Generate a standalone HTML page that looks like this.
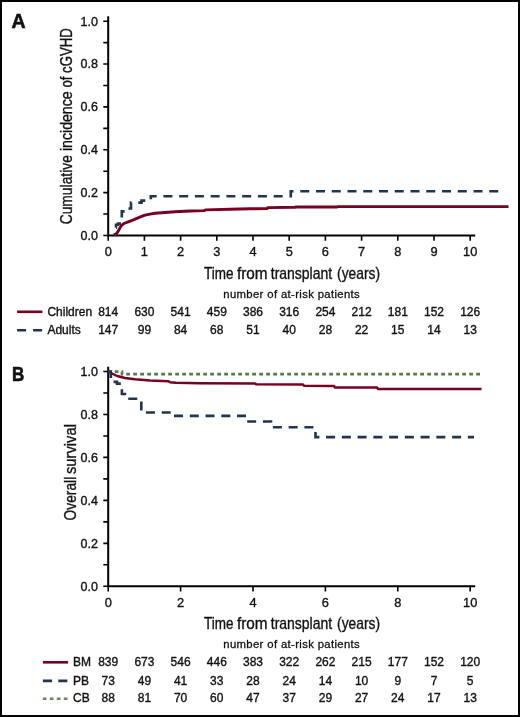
<!DOCTYPE html><html><head><meta charset="utf-8"><style>
html,body{margin:0;padding:0;background:#fff}
body{width:520px;height:717px;overflow:hidden;position:relative;font-family:"Liberation Sans", sans-serif}
#f{position:absolute;left:0;top:0;width:516px;height:713px;border:2px solid #000;background:#fff}
svg{position:absolute;left:0;top:0;will-change:transform}
</style></head><body><div id="f"></div>
<svg width="520" height="717" viewBox="0 0 520 717" font-family='"Liberation Sans", sans-serif' fill="#111">
<style>text{stroke:#111;stroke-width:0.35px}</style>
<text transform="translate(11.6,27.7) scale(1,1)" font-weight="bold" font-size="19.5" style="stroke-width:0.6px">A</text>
<path d="M108.2,16.2V236.5M107.2,235.5H475.2" stroke="#000" stroke-width="2" fill="none"/>
<path d="M103.3,235.50H108.2M103.3,214.07H108.2M103.3,192.64H108.2M103.3,171.21H108.2M103.3,149.78H108.2M103.3,128.35H108.2M103.3,106.92H108.2M103.3,85.49H108.2M103.3,64.06H108.2M103.3,42.63H108.2M103.3,21.20H108.2M108.20,235.5V240.8M144.40,235.5V240.8M180.60,235.5V240.8M216.80,235.5V240.8M253.00,235.5V240.8M289.20,235.5V240.8M325.40,235.5V240.8M361.60,235.5V240.8M397.80,235.5V240.8M434.00,235.5V240.8M470.20,235.5V240.8" stroke="#000" stroke-width="1.6" fill="none"/>
<text x="98" y="239.90" text-anchor="end" font-size="12.5">0.0</text>
<text x="98" y="197.04" text-anchor="end" font-size="12.5">0.2</text>
<text x="98" y="154.18" text-anchor="end" font-size="12.5">0.4</text>
<text x="98" y="111.32" text-anchor="end" font-size="12.5">0.6</text>
<text x="98" y="68.46" text-anchor="end" font-size="12.5">0.8</text>
<text x="98" y="25.60" text-anchor="end" font-size="12.5">1.0</text>
<text x="108.20" y="256.20" text-anchor="middle" font-size="12.8">0</text>
<text x="144.40" y="256.20" text-anchor="middle" font-size="12.8">1</text>
<text x="180.60" y="256.20" text-anchor="middle" font-size="12.8">2</text>
<text x="216.80" y="256.20" text-anchor="middle" font-size="12.8">3</text>
<text x="253.00" y="256.20" text-anchor="middle" font-size="12.8">4</text>
<text x="289.20" y="256.20" text-anchor="middle" font-size="12.8">5</text>
<text x="325.40" y="256.20" text-anchor="middle" font-size="12.8">6</text>
<text x="361.60" y="256.20" text-anchor="middle" font-size="12.8">7</text>
<text x="397.80" y="256.20" text-anchor="middle" font-size="12.8">8</text>
<text x="434.00" y="256.20" text-anchor="middle" font-size="12.8">9</text>
<text x="470.20" y="256.20" text-anchor="middle" font-size="12.8">10</text>
<text transform="translate(71.7,224.32) rotate(-90) scale(0.8440,1)" font-size="16.4">Cumulative</text>
<text transform="translate(71.7,151.05) rotate(-90) scale(0.8614,1)" font-size="16.4">incidence</text>
<text transform="translate(71.7,87.56) rotate(-90) scale(0.8000,1)" font-size="16.4">of</text>
<text transform="translate(71.7,72.96) rotate(-90) scale(0.8041,1)" font-size="16.4">cGVHD</text>
<text transform="translate(204.01,278.5) scale(0.8326,1)" font-size="16.2">Time</text>
<text transform="translate(236.96,278.5) scale(0.9453,1)" font-size="16.2">from</text>
<text transform="translate(270.78,278.5) scale(0.8630,1)" font-size="16.2">transplant</text>
<text transform="translate(337.05,278.5) scale(0.8533,1)" font-size="16.2">(years)</text>
<text x="291.7" y="297.5" text-anchor="middle" font-size="11.3" letter-spacing="0.36" style="stroke-width:0.3px">number of at-risk patients</text>
<path d="M115,235.5L117,232.9L118.7,230.2L121.1,225.9L123.9,223.5L128.3,221.8L134,219.6L140.4,216.9L145,215.2L150,214.1L155,213.3L165,212.5L175,211.7L190,211L204,210.6L206,209.9L230,209.3L250,208.8L267,208.6L268,207.6L295,207.3L296,206.9L337,207L338,206.6L508.5,206.6" stroke="#780022" stroke-width="2.9" fill="none" stroke-linejoin="round"/>
<path d="M114.8,235.5V227.5H116V224.8H118V223.6H121.8V211.4H126V208.5H131V202.6H141.5V200.6H150.8V196.2H290.8V191.3H499.5" stroke="#22344f" stroke-width="2.6" fill="none" stroke-dasharray="9 6.75" stroke-dashoffset="6.6"/>
<path d="M17.1,311.8H42.4" stroke="#780022" stroke-width="2.6"/>
<text x="47.4" y="315.9" font-size="12">Children</text>
<text x="108.20" y="315.9" text-anchor="middle" font-size="12">814</text>
<text x="144.40" y="315.9" text-anchor="middle" font-size="12">630</text>
<text x="180.60" y="315.9" text-anchor="middle" font-size="12">541</text>
<text x="216.80" y="315.9" text-anchor="middle" font-size="12">459</text>
<text x="253.00" y="315.9" text-anchor="middle" font-size="12">386</text>
<text x="289.20" y="315.9" text-anchor="middle" font-size="12">316</text>
<text x="325.40" y="315.9" text-anchor="middle" font-size="12">254</text>
<text x="361.60" y="315.9" text-anchor="middle" font-size="12">212</text>
<text x="397.80" y="315.9" text-anchor="middle" font-size="12">181</text>
<text x="434.00" y="315.9" text-anchor="middle" font-size="12">152</text>
<text x="470.20" y="315.9" text-anchor="middle" font-size="12">126</text>
<path d="M17.1,330.3H42.1" stroke="#22344f" stroke-width="2.6" stroke-dasharray="9 7"/>
<text x="47.4" y="334" font-size="12">Adults</text>
<text x="108.20" y="334" text-anchor="middle" font-size="12">147</text>
<text x="144.40" y="334" text-anchor="middle" font-size="12">99</text>
<text x="180.60" y="334" text-anchor="middle" font-size="12">84</text>
<text x="216.80" y="334" text-anchor="middle" font-size="12">68</text>
<text x="253.00" y="334" text-anchor="middle" font-size="12">51</text>
<text x="289.20" y="334" text-anchor="middle" font-size="12">40</text>
<text x="325.40" y="334" text-anchor="middle" font-size="12">28</text>
<text x="361.60" y="334" text-anchor="middle" font-size="12">22</text>
<text x="397.80" y="334" text-anchor="middle" font-size="12">15</text>
<text x="434.00" y="334" text-anchor="middle" font-size="12">14</text>
<text x="470.20" y="334" text-anchor="middle" font-size="12">13</text>
<text transform="translate(11.9,380.8) scale(0.87,1)" font-weight="bold" font-size="19.5" style="stroke-width:0.6px">B</text>
<path d="M108.2,366.8V587.3M107.2,586.3H475.2" stroke="#000" stroke-width="2" fill="none"/>
<path d="M103.3,586.30H108.2M103.3,564.82H108.2M103.3,543.34H108.2M103.3,521.86H108.2M103.3,500.38H108.2M103.3,478.90H108.2M103.3,457.42H108.2M103.3,435.94H108.2M103.3,414.46H108.2M103.3,392.98H108.2M103.3,371.50H108.2M108.20,586.3V591.5999999999999M180.60,586.3V591.5999999999999M253.00,586.3V591.5999999999999M325.40,586.3V591.5999999999999M397.80,586.3V591.5999999999999M470.20,586.3V591.5999999999999" stroke="#000" stroke-width="1.6" fill="none"/>
<text x="98" y="590.70" text-anchor="end" font-size="12.5">0.0</text>
<text x="98" y="547.74" text-anchor="end" font-size="12.5">0.2</text>
<text x="98" y="504.78" text-anchor="end" font-size="12.5">0.4</text>
<text x="98" y="461.82" text-anchor="end" font-size="12.5">0.6</text>
<text x="98" y="418.86" text-anchor="end" font-size="12.5">0.8</text>
<text x="98" y="375.90" text-anchor="end" font-size="12.5">1.0</text>
<text x="108.20" y="607.00" text-anchor="middle" font-size="12.8">0</text>
<text x="180.60" y="607.00" text-anchor="middle" font-size="12.8">2</text>
<text x="253.00" y="607.00" text-anchor="middle" font-size="12.8">4</text>
<text x="325.40" y="607.00" text-anchor="middle" font-size="12.8">6</text>
<text x="397.80" y="607.00" text-anchor="middle" font-size="12.8">8</text>
<text x="470.20" y="607.00" text-anchor="middle" font-size="12.8">10</text>
<text transform="translate(76.4,520.47) rotate(-90) scale(0.8412,1)" font-size="16.4">Overall</text>
<text transform="translate(76.4,474.00) rotate(-90) scale(0.8992,1)" font-size="16.4">survival</text>
<text transform="translate(204.01,629) scale(0.8326,1)" font-size="16.2">Time</text>
<text transform="translate(236.96,629) scale(0.9453,1)" font-size="16.2">from</text>
<text transform="translate(270.78,629) scale(0.8630,1)" font-size="16.2">transplant</text>
<text transform="translate(337.05,629) scale(0.8533,1)" font-size="16.2">(years)</text>
<text x="291.7" y="647.7" text-anchor="middle" font-size="11.3" letter-spacing="0.36" style="stroke-width:0.3px">number of at-risk patients</text>
<path d="M108.2,371.7H122V374.2H481" stroke="#587a4c" stroke-width="2.7" fill="none" stroke-dasharray="3.8 3.2" stroke-dashoffset="0.5"/>
<path d="M108.2,371.5L112,373.5L117,376L125,378L135,379.3L150,380.6L168,381.2L170,382.2L176,382.8L200,383.2L255,383.4L256,384.3L303,384.5L304,385.8L334,386L335,387.4L377,387.5L378,389L481.5,389" stroke="#780022" stroke-width="2.5" fill="none" stroke-linejoin="round"/>
<path d="M108.2,371.5H110.8V381.9H117V383.6H121.9V394H127V398.7H141.3V412.5H171.5V415.9H246.5V421.5H271V427.3H315.5V437.1H474" stroke="#22344f" stroke-width="2.6" fill="none" stroke-dasharray="9 6.75"/>
<path d="M42.9,662.3H68.1" stroke="#780022" stroke-width="2.6"/>
<text x="73.1" y="666.1" font-size="12">BM</text>
<text x="108.20" y="666.1" text-anchor="middle" font-size="12">839</text>
<text x="144.40" y="666.1" text-anchor="middle" font-size="12">673</text>
<text x="180.60" y="666.1" text-anchor="middle" font-size="12">546</text>
<text x="216.80" y="666.1" text-anchor="middle" font-size="12">446</text>
<text x="253.00" y="666.1" text-anchor="middle" font-size="12">383</text>
<text x="289.20" y="666.1" text-anchor="middle" font-size="12">322</text>
<text x="325.40" y="666.1" text-anchor="middle" font-size="12">262</text>
<text x="361.60" y="666.1" text-anchor="middle" font-size="12">215</text>
<text x="397.80" y="666.1" text-anchor="middle" font-size="12">177</text>
<text x="434.00" y="666.1" text-anchor="middle" font-size="12">152</text>
<text x="470.20" y="666.1" text-anchor="middle" font-size="12">120</text>
<path d="M42.9,680.9H67.4" stroke="#22344f" stroke-width="2.6" stroke-dasharray="9.2 6.2"/>
<text x="73.1" y="684.7" font-size="12">PB</text>
<text x="108.20" y="684.7" text-anchor="middle" font-size="12">73</text>
<text x="144.40" y="684.7" text-anchor="middle" font-size="12">49</text>
<text x="180.60" y="684.7" text-anchor="middle" font-size="12">41</text>
<text x="216.80" y="684.7" text-anchor="middle" font-size="12">33</text>
<text x="253.00" y="684.7" text-anchor="middle" font-size="12">28</text>
<text x="289.20" y="684.7" text-anchor="middle" font-size="12">24</text>
<text x="325.40" y="684.7" text-anchor="middle" font-size="12">14</text>
<text x="361.60" y="684.7" text-anchor="middle" font-size="12">10</text>
<text x="397.80" y="684.7" text-anchor="middle" font-size="12">9</text>
<text x="434.00" y="684.7" text-anchor="middle" font-size="12">7</text>
<text x="470.20" y="684.7" text-anchor="middle" font-size="12">5</text>
<path d="M42.8,698.7H67.6" stroke="#6f8464" stroke-width="2.6" stroke-dasharray="3.7 3.3"/>
<text x="73.1" y="702.4" font-size="12">CB</text>
<text x="108.20" y="702.4" text-anchor="middle" font-size="12">88</text>
<text x="144.40" y="702.4" text-anchor="middle" font-size="12">81</text>
<text x="180.60" y="702.4" text-anchor="middle" font-size="12">70</text>
<text x="216.80" y="702.4" text-anchor="middle" font-size="12">60</text>
<text x="253.00" y="702.4" text-anchor="middle" font-size="12">47</text>
<text x="289.20" y="702.4" text-anchor="middle" font-size="12">37</text>
<text x="325.40" y="702.4" text-anchor="middle" font-size="12">29</text>
<text x="361.60" y="702.4" text-anchor="middle" font-size="12">27</text>
<text x="397.80" y="702.4" text-anchor="middle" font-size="12">24</text>
<text x="434.00" y="702.4" text-anchor="middle" font-size="12">17</text>
<text x="470.20" y="702.4" text-anchor="middle" font-size="12">13</text>
</svg></body></html>
